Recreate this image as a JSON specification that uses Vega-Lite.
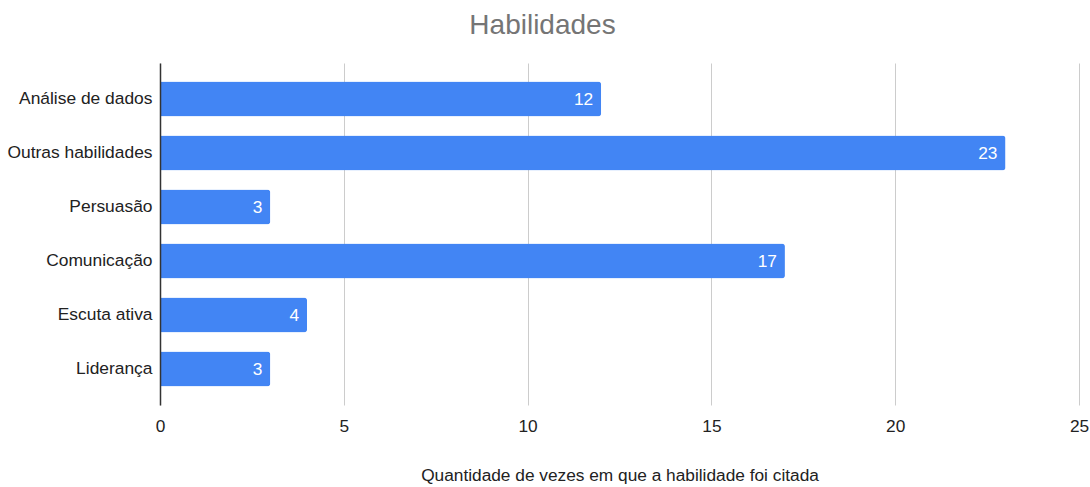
{
  "$schema": "https://vega.github.io/schema/vega-lite/v6.json",
  "width": 919,
  "height": 342,
  "autosize": "none",
  "padding": {"left": 160, "top": 63, "right": 11, "bottom": 82},
  "background": "white",
  "title": {
    "text": "Habilidades",
    "font": "Liberation Sans",
    "fontSize": 28,
    "fontWeight": "normal",
    "color": "#757575",
    "anchor": "middle",
    "dx": -77,
    "offset": 23
  },
  "data": {
    "values": [
      {"habilidade": "Análise de dados", "quantidade": 12},
      {"habilidade": "Outras habilidades", "quantidade": 23},
      {"habilidade": "Persuasão", "quantidade": 3},
      {"habilidade": "Comunicação", "quantidade": 17},
      {"habilidade": "Escuta ativa", "quantidade": 4},
      {"habilidade": "Liderança", "quantidade": 3}
    ]
  },
  "config": {
    "view": {"stroke": null},
    "font": "Liberation Sans"
  },
  "encoding": {
    "y": {
      "field": "habilidade",
      "type": "nominal",
      "sort": null,
      "scale": {"paddingInner": 0.352, "paddingOuter": 0.343},
      "axis": {
        "title": null,
        "domain": true,
        "domainColor": "#333333",
        "domainWidth": 1.5,
        "ticks": false,
        "labelFont": "Liberation Sans",
        "labelFontSize": 17.4,
        "labelColor": "#222222",
        "labelPadding": 8,
        "zindex": 1
      }
    },
    "x": {
      "field": "quantidade",
      "type": "quantitative",
      "scale": {"domain": [0, 25], "nice": false},
      "axis": {
        "title": "Quantidade de vezes em que a habilidade foi citada",
        "titleFont": "Liberation Sans",
        "titleFontSize": 17.3,
        "titleFontWeight": "normal",
        "titleColor": "#222222",
        "titlePadding": 32,
        "values": [0, 5, 10, 15, 20, 25],
        "domain": false,
        "ticks": false,
        "grid": true,
        "gridColor": "#cccccc",
        "gridWidth": 1,
        "labelFont": "Liberation Sans",
        "labelFontSize": 17.3,
        "labelColor": "#222222",
        "labelPadding": 12,
        "labelFlush": false
      }
    }
  },
  "layer": [
    {
      "mark": {"type": "bar", "color": "#4285F4", "cornerRadiusEnd": 3}
    },
    {
      "mark": {
        "type": "text",
        "align": "right",
        "baseline": "middle",
        "dx": -8,
        "dy": 1,
        "color": "white",
        "font": "Liberation Sans",
        "fontSize": 17.3
      },
      "encoding": {
        "text": {"field": "quantidade", "type": "quantitative"}
      }
    }
  ]
}
